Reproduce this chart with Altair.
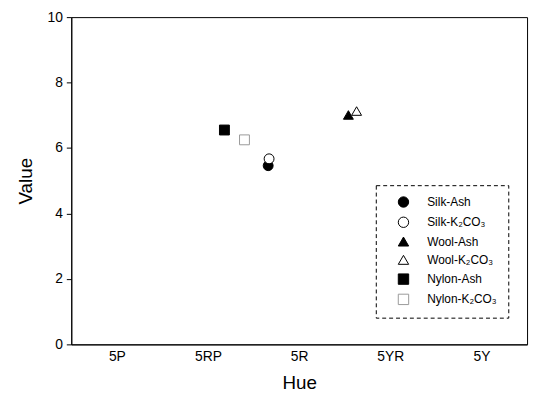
import altair as alt
import pandas as pd

hue_labels = ["5P", "5RP", "5R", "5YR", "5Y"]
series = ["Silk-Ash", "Silk-K₂CO₃", "Wool-Ash", "Wool-K₂CO₃", "Nylon-Ash", "Nylon-K₂CO₃"]
hue_pos = [2.66, 2.67, 3.54, 3.63, 2.18, 2.40]
value = [5.46, 5.67, 7.01, 7.13, 6.55, 6.25]

shapes = ["circle", "circle", "triangle-up", "triangle-up", "square", "square"]
fills = ["black", "white", "black", "white", "black", "white"]
strokes = ["black", "black", "black", "black", "black", "#9a9a9a"]

df = pd.DataFrame({"series": series, "hue": hue_pos, "value": value, "order": list(range(len(series)))})

label_expr = "[" + ",".join("'%s'" % s for s in hue_labels) + "][datum.value - 1]"

font = "Liberation Sans"

chart = alt.Chart(df).mark_point(filled=True, size=100, strokeWidth=1, opacity=1).encode(
    x=alt.X("hue:Q", scale=alt.Scale(domain=[0.5, 5.5], nice=False, zero=False),
            axis=alt.Axis(title="Hue", values=[1, 2, 3, 4, 5], labelExpr=label_expr,
                          ticks=False, grid=False, labelPadding=5, titlePadding=11,
                          labelFontSize=14, titleFontSize=19, titleFontWeight="normal",
                          domainColor="black", labelColor="black", titleColor="black",
                          labelFont=font, titleFont=font)),
    y=alt.Y("value:Q", scale=alt.Scale(domain=[0, 10], nice=False),
            axis=alt.Axis(title="Value", values=[0, 2, 4, 6, 8, 10], grid=False,
                          tickSize=5, tickColor="black", labelPadding=4, titlePadding=12,
                          labelFontSize=14, titleFontSize=19, titleFontWeight="normal",
                          domainColor="black", labelColor="black", titleColor="black",
                          labelFont=font, titleFont=font)),
    shape=alt.Shape("series:N", scale=alt.Scale(domain=series, range=shapes), title=None,
                    legend=alt.Legend(orient="none", legendX=308, legendY=170)),
    fill=alt.Fill("series:N", scale=alt.Scale(domain=series, range=fills), title=None),
    stroke=alt.Stroke("series:N", scale=alt.Scale(domain=series, range=strokes), title=None),
    order=alt.Order("order:Q"),
).properties(
    width=461, height=331,
    padding={"left": 64, "top": 7, "right": 5, "bottom": 50},
    autosize=alt.AutoSizeParams(type="none"),
).configure_view(
    stroke="black", strokeWidth=1
).configure_legend(
    padding=11, symbolOffset=11, labelOffset=18, rowPadding=4.5,
    strokeColor="black", strokeDash=[4, 3], fillColor="white",
    labelFont=font, labelFontSize=12, labelColor="black",
    symbolSize=110, symbolStrokeWidth=1,
)

chart.save("out.html", embed_options={"renderer": "svg", "actions": False})
